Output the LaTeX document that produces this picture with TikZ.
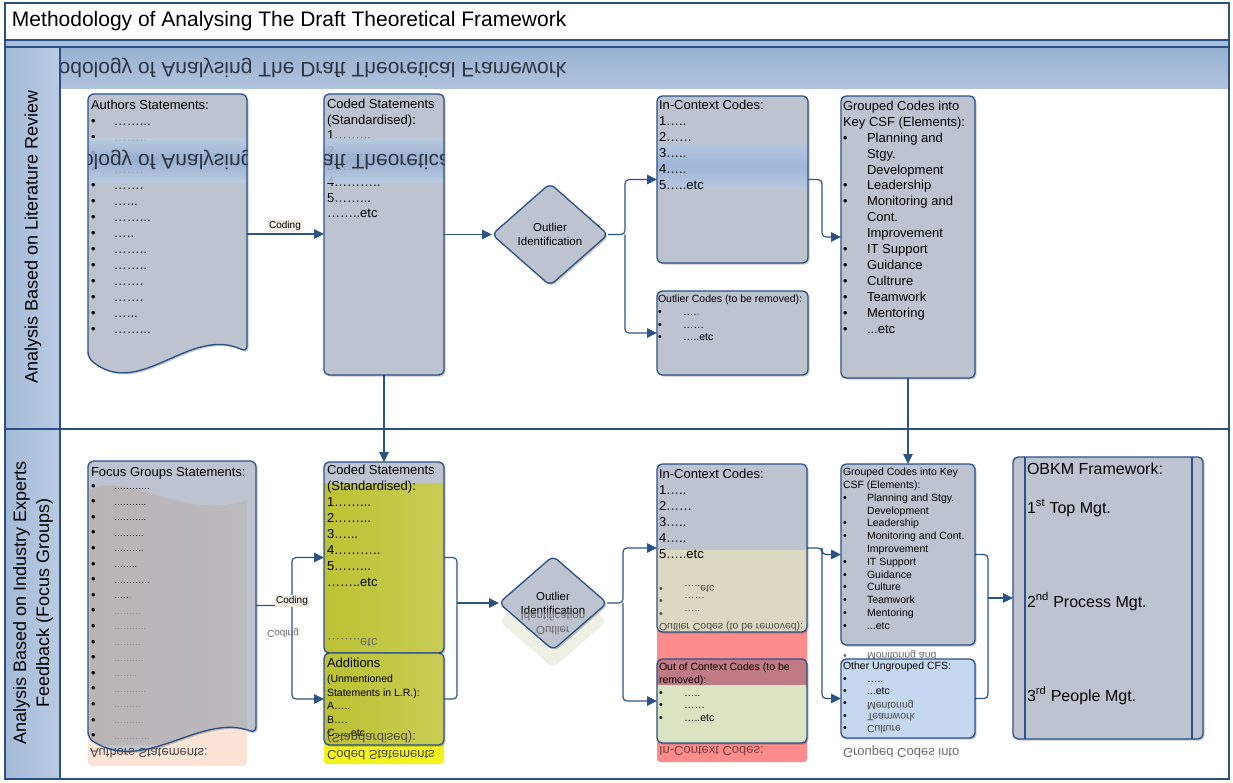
\documentclass[tikz,border=0pt]{standalone}
\usepackage{fontspec}
\setmainfont{Liberation Sans}
\usepackage{graphicx}
\usetikzlibrary{arrows.meta,shapes.geometric,shadows,calc}

% palette
\definecolor{boxgrey}{HTML}{BDC3CF}
\definecolor{rim}{HTML}{2A5087}
\definecolor{linkblue}{HTML}{2C5386}
\definecolor{stripblue}{HTML}{A9BEDA}
\definecolor{laneleft}{HTML}{A3BAD8}
\definecolor{laneright}{HTML}{BACBE2}
\definecolor{bandtop}{HTML}{98B1D2}
\definecolor{bandbot}{HTML}{AFC3DD}
\definecolor{bandcore}{HTML}{94AED2}
\definecolor{bandedge}{HTML}{B9CBE3}
\definecolor{ribboncore}{HTML}{9CB5D8}
\definecolor{ribbonedge}{HTML}{B4C7E2}
\definecolor{olive}{HTML}{BCC232}
\definecolor{olivelight}{HTML}{C8CC55}
\definecolor{brightyellow}{HTML}{F2F21C}
\definecolor{salmon}{HTML}{FF8C8C}
\definecolor{rosy}{HTML}{C07A85}
\definecolor{sage}{HTML}{DAE4C2}
\definecolor{sand}{HTML}{DDD8C2}
\definecolor{sky}{HTML}{C6D8EF}
\definecolor{taupe}{HTML}{BAB4B5}
\definecolor{peach}{HTML}{FBE4D5}
\definecolor{mint}{HTML}{EDF0E3}
\definecolor{tagfill}{HTML}{EFEDE2}
\definecolor{mirrortext}{HTML}{2E3440}
\definecolor{ghostgrey}{HTML}{6B6B6B}
\definecolor{ghostdark}{HTML}{4A4A4A}
\definecolor{ghostred}{HTML}{7A4040}
\definecolor{fadedots}{HTML}{8A8A8A}

\newcommand\flipv[1]{\scalebox{1}[-1]{#1}}
\newcommand\bul[2][23pt]{\makebox[#1][l]{•}#2}
\newcommand\headline{Methodology of Analysing The Draft Theoretical Framework}

\begin{document}
\begin{tikzpicture}[x=1pt, y=-1pt,
  every node/.style={inner sep=0pt, outer sep=0pt},
  softshadow/.style={drop shadow={shadow xshift=1.6pt, shadow yshift=-1.6pt, opacity=.3, fill=black!70}},
  boxbg/.style={fill=boxgrey, rounded corners=5pt, softshadow},
  rimline/.style={draw=rim, line width=1.3pt, rounded corners=5pt},
  wire/.style={draw=linkblue, line width=1.2pt, rounded corners=4pt},
  arrowed/.style={wire, -{Triangle[length=10pt, width=9.5pt]}},
  body/.style={anchor=north west, align=left, font=\fontsize{13}{16}\selectfont},
  bodysmall/.style={anchor=north west, align=left, font=\fontsize{10.5}{12.7}\selectfont},
  mirrored/.style={anchor=west, text=ghostgrey, font=\fontsize{13}{16}\selectfont},
  tag/.style={fill=tagfill, inner sep=1.6pt, font=\fontsize{10}{12}\selectfont},
  decision/.style={diamond, fill=boxgrey, draw=rim, line width=1.3pt, rounded corners=6pt,
    align=center, font=\fontsize{11.5}{14}\selectfont, softshadow},
]
\useasboundingbox (0,0) rectangle (1233,782);
\fill[white] (0,0) rectangle (1233,782);

% ---------- header strip, title band, lane headers ----------
\fill[stripblue] (5,40) rectangle (1229,47);
\shade[top color=bandtop, bottom color=bandbot] (60,47) rectangle (1229,88);
\begin{scope}
  \clip (60,47) rectangle (1229,88);
  \node[anchor=west, text=mirrortext, font=\fontsize{21}{25}\selectfont] (bandtitle) at (12,68) {\flipv{\headline}};
\end{scope}
\shade[left color=laneleft, right color=laneright] (5,47) rectangle (60,779);

\node[anchor=west, font=\fontsize{21}{25}\selectfont] (title) at (12,21) {\headline};

\node[rotate=90, font=\fontsize{18}{23}\selectfont] (lanetop) at (33,237) {Analysis Based on Literature Review};
\node[rotate=90, align=center, font=\fontsize{18}{23}\selectfont] (lanebottom) at (33,603)
  {Analysis Based on Industry Experts\\Feedback (Focus Groups)};

% frame and lane rules
\draw[rim, line width=1.4pt] (5,3) rectangle (1229,779);
\draw[rim, line width=1.8pt] (5,40) -- (1229,40);
\draw[rim, line width=1.8pt] (5,47) -- (1229,47);
\draw[rim, line width=1.4pt] (60,47) -- (60,779);
\draw[rim, line width=1.4pt] (5,429) -- (1229,429);

% ================= upper lane =================
% Authors statements (document shape)
\node[minimum width=159pt, minimum height=280pt, anchor=north west] (auth) at (88,94) {};
\fill[boxgrey, rounded corners=6pt, softshadow] (88,358) -- (88,94) -- (247,94) -- (247,352)
  .. controls (190,325) and (140,400) .. (88,358) -- cycle;
\node[body] (authtxt) at (91,100) {Authors Statements:\\
  \bul{……...}\\ \bul{……..}\\ \bul{……..}\\ \bul{…….}\\ \bul{…….}\\ \bul{…...}\\ \bul{……...}\\
  \bul{…..}\\ \bul{……..}\\ \bul{……..}\\ \bul{…….}\\ \bul{…….}\\ \bul{…...}\\ \bul{……...}};
\begin{scope}
  \clip (88,94) rectangle (247,358);
  \shade[top color=bandedge, bottom color=bandedge, middle color=bandcore, opacity=.85] (88,138) rectangle (247,182);
  \node[anchor=west, text=mirrortext, font=\fontsize{21}{25}\selectfont] (authband) at (12,160) {\flipv{\headline}};
\end{scope}
\draw[rimline, rounded corners=6pt] (88,358) -- (88,94) -- (247,94) -- (247,352)
  .. controls (190,325) and (140,400) .. (88,358) -- cycle;

% Coded statements
\node[boxbg, minimum width=120pt, minimum height=281pt, anchor=north west] (cod1) at (324,94) {};
\node[body, font=\fontsize{13}{15.6}\selectfont] (cod1txt) at (327,99) {Coded Statements\\(Standardised):\\
  1……...\\2……...\\3……\\4………..\\5……...\\……..etc};
\begin{scope}
  \clip[rounded corners=5pt] (cod1.north west) rectangle (cod1.south east);
  \shade[top color=bandedge, bottom color=bandedge, middle color=bandcore, opacity=.85] (324,138) rectangle (444,182);
  \node[anchor=west, text=mirrortext, font=\fontsize{21}{25}\selectfont] (codband) at (12,160) {\flipv{\headline}};
\end{scope}
\draw[rimline] (cod1.north west) rectangle (cod1.south east);

% Outlier identification
\node[decision, aspect=1.137, minimum width=116pt, minimum height=102pt] (dia1) at (550,234.5) {Outlier\\Identification};

% In-context codes
\node[boxbg, minimum width=151pt, minimum height=167pt, anchor=north west] (ic1) at (657,96) {};
\begin{scope}
  \clip[rounded corners=5pt] (ic1.north west) rectangle (ic1.south east);
  \shade[top color=ribbonedge, bottom color=ribbonedge, middle color=ribboncore, opacity=.9] (657,145) rectangle (808,187);
\end{scope}
\node[body] (ic1txt) at (659,100) {In-Context Codes:\\1…..\\2……\\3…..\\4…..\\5…..etc};
\draw[rimline] (ic1.north west) rectangle (ic1.south east);

% Outlier codes
\node[boxbg, minimum width=151pt, minimum height=84pt, anchor=north west] (oc1) at (657,291) {};
\node[bodysmall] (oc1txt) at (658,295) {Outlier Codes (to be removed):\\
  \bul[25pt]{…..}\\ \bul[25pt]{……}\\ \bul[25pt]{…..etc}};
\draw[rimline] (oc1.north west) rectangle (oc1.south east);

% Grouped codes
\node[boxbg, minimum width=134pt, minimum height=282pt, anchor=north west] (gc1) at (841,96) {};
\node[body, font=\fontsize{13}{15.9}\selectfont] (gc1txt) at (843,101) {Grouped Codes into\\Key CSF (Elements):\\
  \bul[24pt]{Planning and}\\ \hspace*{24pt}Stgy.\\ \hspace*{24pt}Development\\
  \bul[24pt]{Leadership}\\ \bul[24pt]{Monitoring and}\\ \hspace*{24pt}Cont.\\ \hspace*{24pt}Improvement\\
  \bul[24pt]{IT Support}\\ \bul[24pt]{Guidance}\\ \bul[24pt]{Cultrure}\\ \bul[24pt]{Teamwork}\\
  \bul[24pt]{Mentoring}\\ \bul[24pt]{...etc}};
\draw[rimline] (gc1.north west) rectangle (gc1.south east);

% ================= lower lane =================
% tinted patches behind the boxes
\fill[peach, rounded corners=4pt] (88,728) rectangle (247,766);
\fill[brightyellow, rounded corners=3pt] (324,743) rectangle (444,764);
\fill[salmon, rounded corners=3pt] (657,628) rectangle (807,762);

% Focus groups statements (document shape)
\node[minimum width=168pt, minimum height=289pt, anchor=north west] (foc) at (88,461) {};
\fill[boxgrey, rounded corners=6pt, softshadow] (88,738) -- (88,461) -- (256,461) -- (256,733)
  .. controls (200,712) and (145,775) .. (88,738) -- cycle;
\begin{scope}
  \clip (88,738) -- (88,461) -- (256,461) -- (256,733) .. controls (200,712) and (145,775) .. (88,738) -- cycle;
  \shade[left color=taupe, right color=taupe!60!boxgrey] (90,490) .. controls (125,470) and (185,522) .. (247,500)
    -- (247,745) -- (90,745) -- cycle;
\end{scope}
\node[body] (foctxt) at (91,467) {Focus Groups Statements:};
\foreach \dd/\cc [count=\i] in {…………/black, ………../black, ………../black, ………./black, ………./black,
    ……../black, …………/black, ……/black, ………/fadedots, ………../fadedots, ………/fadedots,
    ………./fadedots, ……../fadedots, ………../fadedots, ………/fadedots, ………./fadedots, …………/fadedots} {
  \pgfmathsetmacro\yy{487+15.6*(\i-1)}
  \node[anchor=west, font=\fontsize{13}{16}\selectfont] (focbul\i) at (91,\yy) {•};
  \node[anchor=west, text=\cc, font=\fontsize{9}{11}\selectfont] (focdot\i) at (114,{\yy+2}) {\dd};
}
\node[mirrored, text=ghostdark] (focghost) at (90,753) {\flipv{Authors Statements:}};
\draw[rimline, rounded corners=6pt] (88,738) -- (88,461) -- (256,461) -- (256,733)
  .. controls (200,712) and (145,775) .. (88,738) -- cycle;

% Coded statements (lower)
\node[boxbg, minimum width=120pt, minimum height=191pt, anchor=north west] (cod2) at (324,462) {};
\begin{scope}
  \clip[rounded corners=5pt] (cod2.north west) rectangle (cod2.south east);
  \shade[left color=olive, right color=olivelight] (324,483) rectangle (444,653);
\end{scope}
\node[body] (cod2txt) at (327,465) {Coded Statements\\(Standardised):\\
  1……...\\2……...\\3…...\\4………..\\5……...\\……..etc};
\node[mirrored] (cod2ghost) at (327,643) {\flipv{……..etc}};
\draw[rimline] (cod2.north west) rectangle (cod2.south east);

% Additions
\node[boxbg, left color=olive, right color=olivelight, minimum width=120pt, minimum height=92pt, anchor=north west] (add) at (324,653) {};
\node[body] (addhead) at (327,658) {Additions};
\node[bodysmall, font=\fontsize{10.5}{13.5}\selectfont] (addtxt) at (327,675)
  {(Unmentioned\\Statements in L.R.):\\A…..\\B….\\C…..etc};
\node[mirrored, text=ghostdark] (addghost) at (327,737) {\flipv{(Standardised):}};
\node[mirrored, text=ghostdark] (yellowghost) at (327,755) {\flipv{Coded Statements}};
\draw[rimline] (add.north west) rectangle (add.south east);

% Outlier identification (lower) with its faint reflection
\node[diamond, aspect=1.149, minimum width=108pt, minimum height=94pt, fill=mint, rounded corners=6pt] (dia2shade) at (553,621) {};
\node[decision, aspect=1.149, minimum width=108pt, minimum height=94pt] (dia2) at (553,603) {Outlier\\Identification};
\node[text=ghostgrey, font=\fontsize{11.5}{14}\selectfont] (dia2ghosta) at (553,617) {\flipv{Identification}};
\node[text=ghostgrey, font=\fontsize{11.5}{14}\selectfont] (dia2ghostb) at (553,631) {\flipv{Outlier}};

% In-context codes (lower)
\node[boxbg, minimum width=150pt, minimum height=168pt, anchor=north west] (ic2) at (657,464) {};
\begin{scope}
  \clip[rounded corners=5pt] (ic2.north west) rectangle (ic2.south east);
  \fill[sand] (657,550) rectangle (807,632);
\end{scope}
\node[body] (ic2txt) at (659,469) {In-Context Codes:\\1…..\\2……\\3…..\\4…..\\5…..etc};
\node[anchor=south west, text=ghostdark, font=\fontsize{10.5}{12.7}\selectfont] (ic2ghost) at (659,632)
  {\flipv{\begin{tabular}{@{}l@{}}Outlier Codes (to be removed):\\\bul[25pt]{…..}\\\bul[25pt]{……}\\\bul[25pt]{…..etc}\end{tabular}}};
\draw[rimline] (ic2.north west) rectangle (ic2.south east);

% Out of context codes
\node[boxbg, fill=sage, minimum width=150pt, minimum height=84pt, anchor=north west] (ooc) at (657,659) {};
\begin{scope}
  \clip[rounded corners=5pt] (ooc.north west) rectangle (ooc.south east);
  \fill[rosy] (657,659) rectangle (807,685);
\end{scope}
\node[bodysmall] (ooctxt) at (659,663) {Out of Context Codes (to be\\removed):\\
  \bul[25pt]{…..}\\ \bul[25pt]{……}\\ \bul[25pt]{…..etc}};
\node[mirrored, text=ghostred] (redghost) at (659,751) {\flipv{In-Context Codes:}};
\draw[rimline] (ooc.north west) rectangle (ooc.south east);

% Grouped codes (lower)
\node[boxbg, minimum width=134pt, minimum height=181pt, anchor=north west] (gc2) at (841,464) {};
\node[bodysmall, font=\fontsize{10.5}{12.8}\selectfont] (gc2txt) at (843,468) {Grouped Codes into Key\\CSF (Elements):\\
  \bul[24pt]{Planning and Stgy.}\\ \hspace*{24pt}Development\\ \bul[24pt]{Leadership}\\
  \bul[24pt]{Monitoring and Cont.}\\ \hspace*{24pt}Improvement\\ \bul[24pt]{IT Support}\\
  \bul[24pt]{Guidance}\\ \bul[24pt]{Culture}\\ \bul[24pt]{Teamwork}\\ \bul[24pt]{Mentoring}\\ \bul[24pt]{...etc}};
\draw[rimline] (gc2.north west) rectangle (gc2.south east);
\node[anchor=west, text=ghostgrey, font=\fontsize{10.5}{12.8}\selectfont] (gc2ghost) at (843,655) {\flipv{\bul[24pt]{Monitoring and}}};

% Other ungrouped CFS
\node[boxbg, fill=sky, minimum width=134pt, minimum height=79pt, anchor=north west] (ouc) at (841,659) {};
\node[bodysmall, font=\fontsize{10.5}{12.4}\selectfont] (ouctxt) at (843,662) {Other Ungrouped CFS:\\
  \bul[24pt]{…..}\\ \bul[24pt]{...etc}\\ •\\ •\\ •};
\node[anchor=west, text=ghostdark, font=\fontsize{10.5}{12.4}\selectfont] (oucghosta) at (867,705) {\flipv{Mentoring}};
\node[anchor=west, text=ghostdark, font=\fontsize{10.5}{12.4}\selectfont] (oucghostb) at (867,717) {\flipv{Teamwork}};
\node[anchor=west, text=ghostdark, font=\fontsize{10.5}{12.4}\selectfont] (oucghostc) at (867,729) {\flipv{Culture}};
\draw[rimline] (ouc.north west) rectangle (ouc.south east);
\node[mirrored, text=ghostgrey] (skyghost) at (843,752) {\flipv{Grouped Codes into}};

% OBKM framework (predefined-process box)
\node[boxbg, minimum width=190pt, minimum height=282pt, anchor=north west] (obkm) at (1013,457) {};
\draw[rimline] (obkm.north west) rectangle (obkm.south east);
\draw[draw=rim, line width=1.3pt] ($(obkm.north west)+(12,0)$) -- ($(obkm.south west)+(12,0)$);
\draw[draw=rim, line width=1.3pt] ($(obkm.north east)+(-11,0)$) -- ($(obkm.south east)+(-11,0)$);
\node[anchor=base west, font=\fontsize{16}{19}\selectfont] (obkmhead) at (1027,474) {OBKM Framework:};
\node[anchor=base west, font=\fontsize{16}{19}\selectfont] (tier1) at (1027,513) {1\textsuperscript{st} Top Mgt.};
\node[anchor=base west, font=\fontsize{16}{19}\selectfont] (tier2) at (1027,607) {2\textsuperscript{nd} Process Mgt.};
\node[anchor=base west, font=\fontsize{16}{19}\selectfont] (tier3) at (1027,701) {3\textsuperscript{rd} People Mgt.};

% ================= connectors =================
% upper lane
\draw[arrowed] (auth.east) -- (auth.east -| cod1.west);
\node[tag] (coding1) at (285,226) {Coding};
\draw[arrowed] (cod1.east) -- (dia1.west);
\coordinate (fork0) at (625,234.5);
\draw[arrowed] (dia1.east) -- (fork0) |- (ic1.west);
\draw[arrowed] (fork0) |- (oc1.west);
\draw[arrowed] (ic1.east) -- ++(14,0) |- (gc1.west);
\draw[arrowed] (cod1.south) -- (cod2.north);
\draw[arrowed] (gc1.south) -- (gc2.north);

% lower lane
\coordinate (fork1) at (292,605.5);
\draw[arrowed] (foc.east) -- (fork1) |- (cod2.west);
\draw[arrowed] (fork1) |- (add.west);
\node[tag] (coding2) at (292,601) {Coding};
\node[text=ghostgrey, font=\fontsize{10}{12}\selectfont] (coding2ghost) at (283,633) {\flipv{Coding}};

\coordinate (join1) at (457,603);
\draw[wire] (cod2.east) -- (457,557.5) -- (457,699) -- (add.east);
\draw[arrowed] (join1) -- (dia2.west);

\coordinate (fork2) at (623,603);
\draw[arrowed] (dia2.east) -- (fork2) |- (ic2.west);
\draw[arrowed] (fork2) |- (ooc.west);

\coordinate (fork3) at (822,548);
\draw[arrowed] (ic2.east) -- (fork3) |- (gc2.west);
\draw[arrowed] (fork3) |- (ouc.west);

\coordinate (join2) at (988,598);
\draw[wire] (gc2.east) -- (988,554.5) -- (988,698.5) -- (ouc.east);
\draw[arrowed] (join2) -- (obkm.west);
\end{tikzpicture}
\end{document}
